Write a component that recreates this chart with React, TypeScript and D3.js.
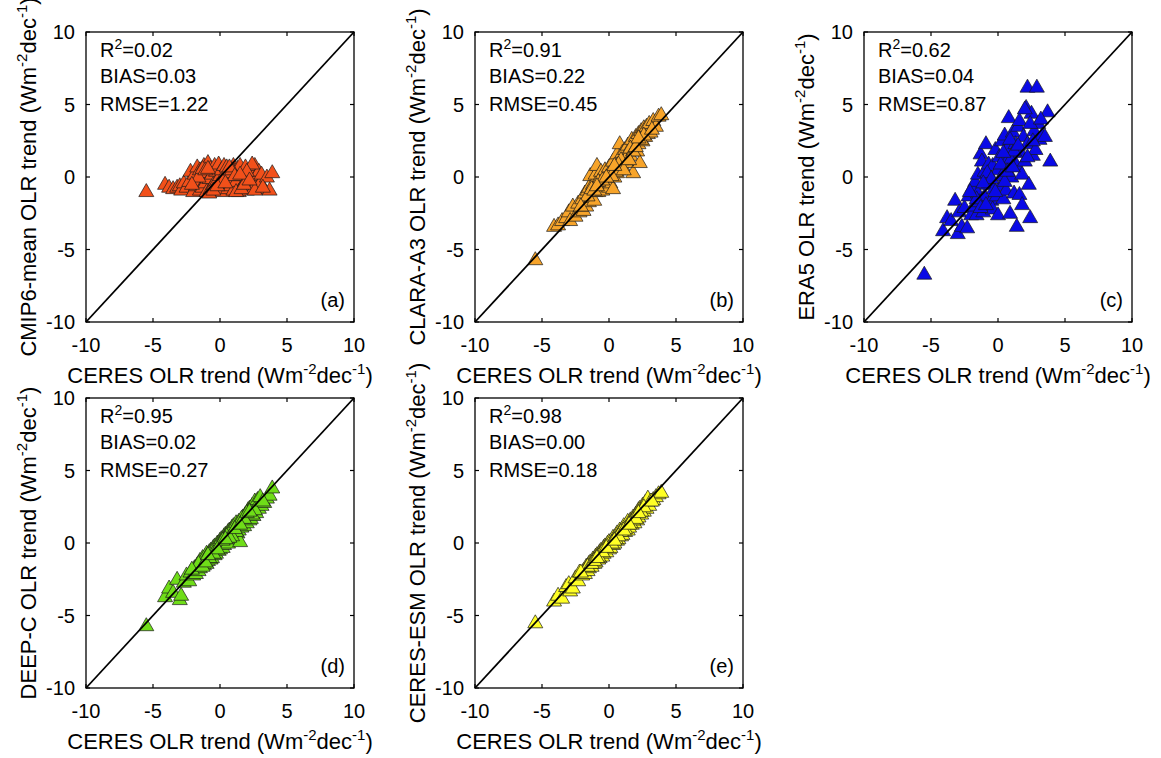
import React from "react";
import * as d3 from "d3";

// CERES OLR trend (x, shared by all panels)
const ceres = [
  -5.5, -4.1, -3.8, -3.5, -3.2, -3.0, -2.9, -2.7, -2.5, -2.3,
  -2.2, -2.0, -1.9, -1.8, -1.7, -1.6, -1.5, -1.5, -1.4, -1.3,
  -1.2, -1.1, -1.0, -1.0, -0.9, -0.8, -0.7, -0.7, -0.6, -0.5,
  -0.4, -0.4, -0.3, -0.2, -0.1, 0.0, 0.0, 0.1, 0.2, 0.3,
  0.3, 0.4, 0.5, 0.6, 0.6, 0.7, 0.8, 0.9, 1.0, 1.0,
  1.1, 1.2, 1.3, 1.4, 1.4, 1.5, 1.6, 1.7, 1.8, 1.9,
  2.0, 2.1, 2.2, 2.2, 2.3, 2.4, 2.5, 2.6, 2.7, 2.8,
  2.9, 3.0, 3.1, 3.3, 3.5, 3.7, 3.9, -1.6, -0.8, 0.5,
  1.2, -2.1, -1.3, 0.2, 0.9, 1.6, 2.4, -0.5, 0.7, 1.8,
  -1.1, -0.2, 1.1, 2.0, 2.6, 0.4, -0.9, 1.5, 2.2, 3.2,
];

const cmip6 = [
  -0.9, -0.4, -0.6, -0.7, -0.6, -0.5, -0.8, -0.3, -0.6, -0.2,
  0.5, -0.9, 0.3, -0.5, 0.8, -0.2, 0.6, -0.8, 0.2, -0.6,
  0.9, -0.3, 0.4, -0.9, 1.1, 0.0, 0.7, -0.7, 0.3, -0.4,
  0.9, -0.8, 0.5, -0.1, 1.0, 0.2, -0.6, 0.6, -0.9, 0.9,
  -0.3, 0.4, 0.8, -0.7, 0.1, 0.6, -0.5, 0.3, 0.9, -0.8,
  0.5, -0.2, 0.7, -0.9, 0.2, 0.9, -0.6, 0.4, -0.3, 0.8,
  -0.8, 0.3, 0.6, -0.5, 0.0, 0.7, -0.7, 0.9, 0.2, -0.6,
  0.5, -0.3, 0.3, -0.7, 0.1, -0.8, 0.4, 0.1, -1.0, 0.4,
  -0.9, -0.4, 0.7, -0.2, 0.6, -0.7, 1.0, -0.8, 0.8, -0.4,
  0.6, -0.5, 0.2, 0.5, -0.8, -0.3, 0.7, 0.3, -0.1, -0.6,
];

const clara = [
  -5.6, -3.3, -3.2, -2.9, -2.7, -2.3, -2.9, -1.9, -2.6, -1.7,
  -2.3, -1.4, -2.2, -1.0, -1.9, -0.8, -1.6, -0.6, 0.2, -1.3,
  -0.4, -1.5, 0.3, -0.9, 0.9, -0.9, 0.1, -0.6, 0.5, -0.8,
  0.3, -0.5, 0.6, -0.4, 0.4, -0.6, 0.8, -0.3, 0.7, -0.7,
  1.2, 0.1, 1.0, 0.4, 1.7, 0.6, 2.4, 0.8, 1.8, 0.9,
  1.5, 2.0, 1.1, 2.3, 1.4, 2.0, 1.6, 2.7, 0.4, 2.3,
  2.9, 1.9, 3.1, 2.4, 1.1, 3.3, 2.6, 3.5, 2.9, 3.6,
  3.1, 3.8, 3.2, 4.0, 3.6, 4.3, 4.4, -1.2, -0.2, 0.5,
  1.3, -1.9, -0.7, 0.2, 1.3, 2.1, 2.7, -0.1, 1.0, 1.9,
  -0.8, 0.1, 0.6, 2.2, 3.0, 0.9, -0.5, 1.3, 2.8, 3.4,
];

const era5 = [
  -6.6, -3.6, -2.7, -2.9, -1.5, -3.8, -2.3, -3.3, -2.0, -3.4,
  -1.2, -2.5, -0.6, -1.9, -0.2, -2.5, -1.0, 0.3, -1.6, 1.7,
  1.2, -2.3, 0.5, -1.2, 2.4, -0.4, 1.0, -2.0, 0.2, -1.5,
  -2.1, 0.9, -0.7, 2.0, -1.2, -2.5, 0.6, 1.5, -0.5, 2.6,
  0.2, -1.4, 3.0, 1.1, -0.8, 2.1, 4.2, -2.4, 1.4, 0.1,
  3.2, -1.0, 2.4, -3.3, 0.9, 3.6, -1.1, 1.8, 0.3, 2.9,
  1.2, 4.9, 6.3, 2.4, -0.4, -2.7, 4.5, 1.6, 3.3, 2.0,
  6.3, 3.8, 2.7, 3.0, 2.9, 4.6, 1.2, -1.4, 0.4, -0.2,
  1.9, -0.9, -2.0, 1.0, 2.7, 4.0, 3.8, 0.0, 0.5, -1.8,
  -0.3, -0.9, 0.8, 4.8, 2.6, 1.8, -1.8, 2.3, 1.5, 4.1,
];

const deepc = [
  -5.6, -3.6, -3.0, -3.3, -2.4, -3.8, -3.5, -2.6, -2.1, -2.5,
  -1.9, -2.1, -1.6, -2.0, -1.4, -1.8, -1.1, -1.6, -1.3, -0.9,
  -1.4, -0.8, -1.3, -0.6, -1.1, -0.5, -1.0, -0.4, -0.9, -0.2,
  -0.7, -0.1, -0.6, 0.1, -0.4, 0.3, -0.3, 0.4, -0.2, 0.6,
  0.0, 0.7, 0.2, 0.9, 0.1, 1.0, 0.4, 1.2, 0.5, 1.3,
  0.7, 1.5, 0.8, 1.6, 1.0, 0.2, 1.2, 1.9, 1.3, 2.1,
  1.5, 2.4, 1.7, 2.5, 1.8, 2.7, 2.0, 3.0, 2.2, 3.1,
  2.5, 3.3, 2.7, 2.9, 3.2, 3.4, 3.9, -1.3, -0.9, 0.6,
  0.9, -1.7, -1.5, 0.3, 0.6, 1.8, 2.1, -0.6, 0.5, 1.8,
  -1.2, -0.3, 1.1, 2.2, 2.4, 0.4, -0.7, 1.4, 2.3, 3.0,
];

const ceresEsm = [
  -5.4, -3.9, -3.5, -3.7, -2.9, -2.7, -3.2, -3.0, -2.3, -2.5,
  -1.9, -2.1, -1.8, -2.0, -1.5, -1.8, -1.3, -1.6, -1.2, -1.5,
  -1.0, -1.3, -0.8, -1.2, -0.7, -1.0, -0.5, -0.9, -0.4, -0.8,
  -0.2, -0.6, -0.1, -0.5, 0.1, -0.3, 0.2, -0.2, 0.3, 0.0,
  0.5, 0.1, 0.6, 0.3, 0.8, 0.4, 1.0, 0.6, 1.1, 0.7,
  1.3, 0.9, 1.4, 1.0, 1.6, 1.2, 1.7, 1.4, 1.9, 1.5,
  2.1, 1.7, 2.4, 1.9, 2.5, 2.1, 2.7, 2.3, 2.9, 2.5,
  3.2, 2.7, 3.0, 3.1, 3.3, 3.5, 3.6, -1.5, -0.8, 0.4,
  1.1, -1.9, -1.3, 0.1, 0.9, 1.5, 2.3, -0.5, 0.6, 1.7,
  -1.1, -0.2, 1.0, 1.8, 2.6, 0.3, -0.9, 1.4, 2.2, 3.0,
];

const axisTicks = [-10, -5, 0, 5, 10];
const panelNames = ["CMIP6-mean", "CLARA-A3", "ERA5", "DEEP-C", "CERES-ESM"];
const panelTags = ["(a)", "(b)", "(c)", "(d)", "(e)"];
const r2Values = ["0.02", "0.91", "0.62", "0.95", "0.98"];
const biasValues = ["0.03", "0.22", "0.04", "0.02", "0.00"];
const rmseValues = ["1.22", "0.45", "0.87", "0.27", "0.18"];
const productSeries = [cmip6, clara, era5, deepc, ceresEsm];

const colors = ["#F2501A", "#F7A42A", "#0A0AE6", "#6FDD18", "#FFFF26"];
const positions = [
  { left: 86, top: 32 },
  { left: 475, top: 32 },
  { left: 864, top: 32 },
  { left: 86, top: 398 },
  { left: 475, top: 398 },
];
const W = 268;
const H = 290;
const FONT = "Arial, 'Liberation Sans', Helvetica, sans-serif";
const TRI = "M0,-6.5L7.5,6.5L-7.5,6.5Z";

function Panel({ i }: { i: number }) {
  const { left, top } = positions[i];
  const x = d3.scaleLinear().domain([-10, 10]).range([left, left + W]);
  const y = d3.scaleLinear().domain([-10, 10]).range([top + H, top]);
  const ys = productSeries[i];
  const tl = 4;
  const diag = d3.line<number>().x((v) => x(v)).y((v) => y(v))([-10, 10]) || "";
  const cy = top + H / 2;
  const cx = left + W / 2;
  return (
    <g>
      {ceres.map((cv, k) => (
        <path
          key={k}
          d={TRI}
          transform={`translate(${x(cv)},${y(ys[k])})`}
          fill={colors[i]}
          stroke="#1a1a1a"
          strokeWidth={0.7}
        />
      ))}
      <path d={diag} stroke="#000" strokeWidth={1.8} fill="none" />
      <rect x={left} y={top} width={W} height={H} fill="none" stroke="#000" strokeWidth={1.3} />
      {axisTicks.map((t) => (
        <g key={t}>
          <line x1={x(t)} x2={x(t)} y1={top + H} y2={top + H - tl} stroke="#000" strokeWidth={1.2} />
          <line x1={x(t)} x2={x(t)} y1={top} y2={top + tl} stroke="#000" strokeWidth={1.2} />
          <line x1={left} x2={left + tl} y1={y(t)} y2={y(t)} stroke="#000" strokeWidth={1.2} />
          <line x1={left + W} x2={left + W - tl} y1={y(t)} y2={y(t)} stroke="#000" strokeWidth={1.2} />
          <text x={x(t)} y={top + H + 30} textAnchor="middle" fontSize={20} fontFamily={FONT}>
            {t}
          </text>
          <text x={left - 11} y={y(t) + 7} textAnchor="end" fontSize={20} fontFamily={FONT}>
            {t}
          </text>
        </g>
      ))}
      <text x={left + 14} y={top + 25} fontSize={20} fontFamily={FONT}>
        R<tspan dy={-8} fontSize={14}>2</tspan>
        <tspan dy={8}>={r2Values[i]}</tspan>
      </text>
      <text x={left + 14} y={top + 51} fontSize={20} fontFamily={FONT}>
        BIAS={biasValues[i]}
      </text>
      <text x={left + 14} y={top + 79} fontSize={20} fontFamily={FONT}>
        RMSE={rmseValues[i]}
      </text>
      <text x={left + W - 9} y={top + H - 15} textAnchor="end" fontSize={20} fontFamily={FONT}>
        {panelTags[i]}
      </text>
      <text x={cx} y={top + H + 61} textAnchor="middle" fontSize={22} fontFamily={FONT}>
        CERES OLR trend (Wm<tspan dy={-9} fontSize={15}>-2</tspan>
        <tspan dy={9}>dec</tspan>
        <tspan dy={-9} fontSize={15}>-1</tspan>
        <tspan dy={9}>)</tspan>
      </text>
      <text
        transform={`translate(${left - 50},${cy}) rotate(-90)`}
        textAnchor="middle"
        fontSize={22}
        fontFamily={FONT}
      >
        {panelNames[i]} OLR trend (Wm<tspan dy={-9} fontSize={15}>-2</tspan>
        <tspan dy={9}>dec</tspan>
        <tspan dy={-9} fontSize={15}>-1</tspan>
        <tspan dy={9}>)</tspan>
      </text>
    </g>
  );
}

export default function App() {
  return (
    <div style={{ position: "absolute", left: 0, top: 0 }}>
      <svg width={1161} height={758} style={{ display: "block", background: "#fff" }}>
        {positions.map((_, i) => (
          <Panel key={i} i={i} />
        ))}
      </svg>
    </div>
  );
}
